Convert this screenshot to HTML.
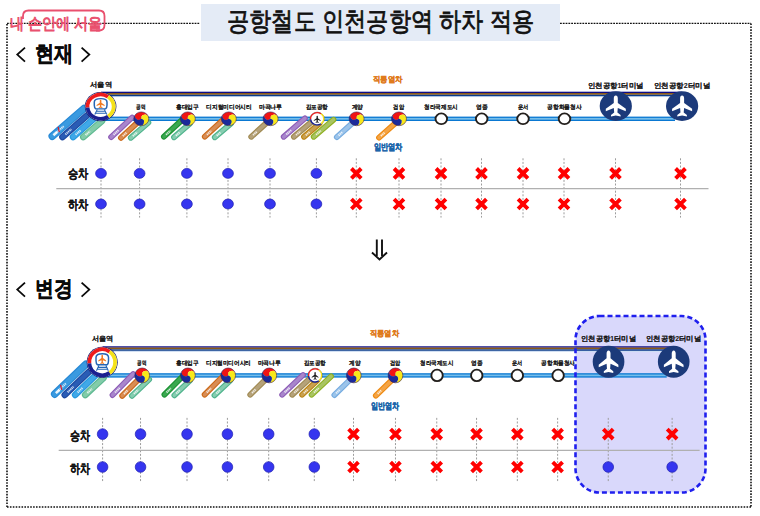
<!DOCTYPE html><html><head><meta charset="utf-8"><style>html,body{margin:0;padding:0;background:#fff;width:760px;height:516px;overflow:hidden}svg{display:block;font-family:"Liberation Sans",sans-serif}</style></head><body><svg width="760" height="516" viewBox="0 0 760 516"><rect width="760" height="516" fill="#fff"/><path d="M7,23.3 L200,23.3 M560,23.3 L751,23.3" fill="none" stroke="#111" stroke-width="1.2" stroke-dasharray="1.8,1"/><path d="M751,23.5 L751,507 M751,507 L7,507 M7,507 L7,23" fill="none" stroke="#111" stroke-width="1.6" stroke-dasharray="1.6,1.3"/><rect x="201" y="4" width="359" height="37" fill="#e4ebf6"/><text x="227.00" y="29.70" font-size="26" font-weight="normal" fill="#111" textLength="307.00" lengthAdjust="spacingAndGlyphs" stroke="#111" stroke-width="0.8">공항철도 인천공항역 하차 적용</text><path d="M23,19 L23,16 Q23,10.5 28.5,10.5 L99,10.5 Q104.5,10.5 104.5,16 L104.5,25 Q104.5,30.5 99,30.5 L96,30.5" fill="none" stroke="#e9506e" stroke-width="1.8"/><text x="9.80" y="28.70" font-size="15.5" font-weight="normal" fill="#e9506e" textLength="91.90" lengthAdjust="spacingAndGlyphs" stroke="#e9506e" stroke-width="0.9">내 손안에 서울</text><path d="M25,47.6 L17.3,54.6 L25,61.6 M81.6,47.6 L89.3,54.6 L81.6,61.6" fill="none" stroke="#0a0a0a" stroke-width="1.8"/><path d="M25,282.6 L17.3,289.6 L25,296.6 M81.6,282.6 L89.3,289.6 L81.6,296.6" fill="none" stroke="#0a0a0a" stroke-width="1.8"/><text x="35.00" y="61.20" font-size="22" font-weight="bold" fill="#0a0a0a" textLength="38.30" lengthAdjust="spacingAndGlyphs" stroke="#0a0a0a" stroke-width="0.4">현재</text><text x="35.30" y="296.20" font-size="22" font-weight="bold" fill="#0a0a0a" textLength="37.50" lengthAdjust="spacingAndGlyphs" stroke="#0a0a0a" stroke-width="0.4">변경</text><rect x="101.00" y="96.20" width="581.00" height="0.9" fill="#cddcf2"/><rect x="101.00" y="91.70" width="581.00" height="1.4" fill="#0c0c88"/><rect x="101.00" y="93.00" width="581.00" height="1.8" fill="#8c5a18"/><rect x="101.00" y="94.80" width="581.00" height="1.4" fill="#0a3c8c"/><rect x="101.00" y="116.60" width="574.00" height="4.4" fill="#0a78d2"/><rect x="101.00" y="117.90" width="574.00" height="1.8" fill="#74bdea"/><line x1="52.30" y1="136.20" x2="84.00" y2="108.50" stroke="#2789d6" stroke-width="7.6" stroke-linecap="round"/><line x1="52.30" y1="136.20" x2="84.00" y2="108.50" stroke="#3a9ae0" stroke-width="5.3999999999999995" stroke-linecap="round"/><line x1="56.10" y1="132.88" x2="63.71" y2="126.23" stroke="#ffffff" stroke-opacity="0.8" stroke-width="2" stroke-dasharray="1.2,0.6"/><line x1="62.50" y1="137.00" x2="87.00" y2="115.50" stroke="#1c48a0" stroke-width="6.6" stroke-linecap="round"/><line x1="62.50" y1="137.00" x2="87.00" y2="115.50" stroke="#2a5cb5" stroke-width="4.3999999999999995" stroke-linecap="round"/><line x1="65.44" y1="134.42" x2="71.32" y2="129.26" stroke="#ffffff" stroke-opacity="0.8" stroke-width="2" stroke-dasharray="1.2,0.6"/><line x1="73.10" y1="137.00" x2="94.00" y2="118.50" stroke="#2598de" stroke-width="6.6" stroke-linecap="round"/><line x1="73.10" y1="137.00" x2="94.00" y2="118.50" stroke="#40a8e8" stroke-width="4.3999999999999995" stroke-linecap="round"/><line x1="75.61" y1="134.78" x2="80.62" y2="130.34" stroke="#ffffff" stroke-opacity="0.8" stroke-width="2" stroke-dasharray="1.2,0.6"/><line x1="83.30" y1="137.00" x2="102.00" y2="121.00" stroke="#5db890" stroke-width="6.6" stroke-linecap="round"/><line x1="83.30" y1="137.00" x2="102.00" y2="121.00" stroke="#82cca9" stroke-width="4.3999999999999995" stroke-linecap="round"/><line x1="85.54" y1="135.08" x2="90.03" y2="131.24" stroke="#ffffff" stroke-opacity="0.8" stroke-width="2" stroke-dasharray="1.2,0.6"/><line x1="111.10" y1="137.10" x2="132.10" y2="117.50" stroke="#8d5bb6" stroke-width="5.8" stroke-linecap="round"/><line x1="111.10" y1="137.10" x2="132.10" y2="117.50" stroke="#a886cc" stroke-width="3.5999999999999996" stroke-linecap="round"/><line x1="113.62" y1="134.75" x2="118.66" y2="130.04" stroke="#ffffff" stroke-opacity="0.8" stroke-width="2" stroke-dasharray="1.2,0.6"/><line x1="120.90" y1="137.80" x2="137.00" y2="123.00" stroke="#cc6a1a" stroke-width="5.8" stroke-linecap="round"/><line x1="120.90" y1="137.80" x2="137.00" y2="123.00" stroke="#d88d55" stroke-width="3.5999999999999996" stroke-linecap="round"/><line x1="122.83" y1="136.02" x2="126.70" y2="132.47" stroke="#ffffff" stroke-opacity="0.8" stroke-width="2" stroke-dasharray="1.2,0.6"/><line x1="130.80" y1="137.80" x2="148.40" y2="122.60" stroke="#4fb38c" stroke-width="5.8" stroke-linecap="round"/><line x1="130.80" y1="137.80" x2="148.40" y2="122.60" stroke="#86cdb0" stroke-width="3.5999999999999996" stroke-linecap="round"/><line x1="132.91" y1="135.98" x2="137.14" y2="132.33" stroke="#ffffff" stroke-opacity="0.8" stroke-width="2" stroke-dasharray="1.2,0.6"/><line x1="163.90" y1="136.70" x2="182.00" y2="120.00" stroke="#1c9233" stroke-width="5.8" stroke-linecap="round"/><line x1="163.90" y1="136.70" x2="182.00" y2="120.00" stroke="#3aa850" stroke-width="3.5999999999999996" stroke-linecap="round"/><line x1="166.07" y1="134.70" x2="170.42" y2="130.69" stroke="#ffffff" stroke-opacity="0.8" stroke-width="2" stroke-dasharray="1.2,0.6"/><line x1="174.00" y1="137.30" x2="190.00" y2="123.50" stroke="#4fb38c" stroke-width="5.8" stroke-linecap="round"/><line x1="174.00" y1="137.30" x2="190.00" y2="123.50" stroke="#86cdb0" stroke-width="3.5999999999999996" stroke-linecap="round"/><line x1="175.92" y1="135.64" x2="179.76" y2="132.33" stroke="#ffffff" stroke-opacity="0.8" stroke-width="2" stroke-dasharray="1.2,0.6"/><line x1="204.80" y1="136.70" x2="223.00" y2="120.00" stroke="#cc6a1a" stroke-width="5.8" stroke-linecap="round"/><line x1="204.80" y1="136.70" x2="223.00" y2="120.00" stroke="#d88d55" stroke-width="3.5999999999999996" stroke-linecap="round"/><line x1="206.98" y1="134.70" x2="211.35" y2="130.69" stroke="#ffffff" stroke-opacity="0.8" stroke-width="2" stroke-dasharray="1.2,0.6"/><line x1="214.80" y1="137.30" x2="231.00" y2="123.50" stroke="#4fb38c" stroke-width="5.8" stroke-linecap="round"/><line x1="214.80" y1="137.30" x2="231.00" y2="123.50" stroke="#86cdb0" stroke-width="3.5999999999999996" stroke-linecap="round"/><line x1="216.74" y1="135.64" x2="220.63" y2="132.33" stroke="#ffffff" stroke-opacity="0.8" stroke-width="2" stroke-dasharray="1.2,0.6"/><line x1="251.20" y1="136.80" x2="267.00" y2="122.50" stroke="#a08a52" stroke-width="5.8" stroke-linecap="round"/><line x1="251.20" y1="136.80" x2="267.00" y2="122.50" stroke="#b5a27a" stroke-width="3.5999999999999996" stroke-linecap="round"/><line x1="253.10" y1="135.08" x2="256.89" y2="131.65" stroke="#ffffff" stroke-opacity="0.8" stroke-width="2" stroke-dasharray="1.2,0.6"/><line x1="283.70" y1="136.80" x2="304.90" y2="118.40" stroke="#8d5bb6" stroke-width="5.8" stroke-linecap="round"/><line x1="283.70" y1="136.80" x2="304.90" y2="118.40" stroke="#a886cc" stroke-width="3.5999999999999996" stroke-linecap="round"/><line x1="286.24" y1="134.59" x2="291.33" y2="130.18" stroke="#ffffff" stroke-opacity="0.8" stroke-width="2" stroke-dasharray="1.2,0.6"/><line x1="293.90" y1="136.80" x2="312.00" y2="121.50" stroke="#a08a52" stroke-width="5.8" stroke-linecap="round"/><line x1="293.90" y1="136.80" x2="312.00" y2="121.50" stroke="#b5a27a" stroke-width="3.5999999999999996" stroke-linecap="round"/><line x1="296.07" y1="134.96" x2="300.42" y2="131.29" stroke="#ffffff" stroke-opacity="0.8" stroke-width="2" stroke-dasharray="1.2,0.6"/><line x1="304.00" y1="136.80" x2="319.50" y2="123.50" stroke="#bb8412" stroke-width="5.8" stroke-linecap="round"/><line x1="304.00" y1="136.80" x2="319.50" y2="123.50" stroke="#c9a050" stroke-width="3.5999999999999996" stroke-linecap="round"/><line x1="305.86" y1="135.20" x2="309.58" y2="132.01" stroke="#ffffff" stroke-opacity="0.8" stroke-width="2" stroke-dasharray="1.2,0.6"/><line x1="313.70" y1="136.80" x2="333.50" y2="119.70" stroke="#8fb022" stroke-width="5.8" stroke-linecap="round"/><line x1="313.70" y1="136.80" x2="333.50" y2="119.70" stroke="#a8c462" stroke-width="3.5999999999999996" stroke-linecap="round"/><line x1="316.08" y1="134.75" x2="320.83" y2="130.64" stroke="#ffffff" stroke-opacity="0.8" stroke-width="2" stroke-dasharray="1.2,0.6"/><line x1="336.80" y1="137.10" x2="352.00" y2="123.50" stroke="#76ace0" stroke-width="5.8" stroke-linecap="round"/><line x1="336.80" y1="137.10" x2="352.00" y2="123.50" stroke="#9cc4ea" stroke-width="3.5999999999999996" stroke-linecap="round"/><line x1="338.62" y1="135.47" x2="342.27" y2="132.20" stroke="#ffffff" stroke-opacity="0.8" stroke-width="2" stroke-dasharray="1.2,0.6"/><line x1="379.00" y1="137.60" x2="395.00" y2="123.50" stroke="#ee8a12" stroke-width="5.8" stroke-linecap="round"/><line x1="379.00" y1="137.60" x2="395.00" y2="123.50" stroke="#f4a445" stroke-width="3.5999999999999996" stroke-linecap="round"/><line x1="380.92" y1="135.91" x2="384.76" y2="132.52" stroke="#ffffff" stroke-opacity="0.8" stroke-width="2" stroke-dasharray="1.2,0.6"/><g transform="translate(52.30,136.20) rotate(-42)"><rect x="1.5" y="-1.3" width="5" height="2.6" fill="#ffffff" opacity="0.9"/><path d="M8,1.6 L10.5,-3" stroke="#e01a2a" stroke-width="1.2"/></g><g transform="translate(100.60,106.60) scale(1.0,0.92)"><circle r="15.8" fill="#1a2070"/><circle r="15.0" fill="#fff"/><path d="M-13.05,1.14 A13.10,13.10 0 0 1 7.51,-10.73" fill="none" stroke="#ee1c1c" stroke-width="3.8"/><path d="M7.51,-10.73 A13.10,13.10 0 0 1 7.51,10.73" fill="none" stroke="#f5e21a" stroke-width="3.8"/><path d="M7.51,10.73 A13.10,13.10 0 0 1 -13.05,1.14" fill="none" stroke="#1a2090" stroke-width="3.8"/><g transform="translate(-100.8,-106.5)"><path d="M96,109 Q94.5,108 94.5,105 L94.5,101.5 Q94.5,97.8 101,97.8 Q107.2,97.8 107.2,101.5 L107.2,105 Q107.2,108 105.7,109 Z" fill="none" stroke="#2565b5" stroke-width="1.5"/><path d="M97.5,109.5 L95,115 M104.5,109.5 L107,115 M96.8,111.6 L105.2,111.6 M96,113.6 L106,113.6" stroke="#2565b5" stroke-width="1.1" fill="none"/><path transform="translate(100.80,103.40) scale(0.4)" d="M0,-11 C1.3,-11 2,-9.5 2,-8 L2,-3 L10,3.5 L10,6 L2,2.5 L1.6,7.5 L4.8,10.2 L4.8,11.8 L0,10.8 L-4.8,11.8 L-4.8,10.2 L-1.6,7.5 L-2,2.5 L-10,6 L-10,3.5 L-2,-3 L-2,-8 C-2,-9.5 -1.3,-11 0,-11Z" fill="#f07a22"/></g></g><g transform="translate(141.30,118.80) scale(1.0,0.92)"><path d="M0.00,0.00 A3.75,3.75 0 0 1 -5.30,-5.30 A7.50,7.50 0 0 1 7.24,-1.94 A3.75,3.75 0 0 0 0.00,0.00Z" fill="#f01414"/><path d="M0.00,0.00 A3.75,3.75 0 0 1 7.24,-1.94 A7.50,7.50 0 0 1 -1.94,7.24 A3.75,3.75 0 0 0 0.00,0.00Z" fill="#f8e81a"/><path d="M0.00,0.00 A3.75,3.75 0 0 1 -1.94,7.24 A7.50,7.50 0 0 1 -5.30,-5.30 A3.75,3.75 0 0 0 0.00,0.00Z" fill="#1b2a9a"/><circle cx="0.00" cy="0.00" r="7.50" fill="none" stroke="#3a2050" stroke-width="0.6"/></g><g transform="translate(187.80,118.80) scale(1.0,0.92)"><path d="M0.00,0.00 A3.75,3.75 0 0 1 -5.30,-5.30 A7.50,7.50 0 0 1 7.24,-1.94 A3.75,3.75 0 0 0 0.00,0.00Z" fill="#f01414"/><path d="M0.00,0.00 A3.75,3.75 0 0 1 7.24,-1.94 A7.50,7.50 0 0 1 -1.94,7.24 A3.75,3.75 0 0 0 0.00,0.00Z" fill="#f8e81a"/><path d="M0.00,0.00 A3.75,3.75 0 0 1 -1.94,7.24 A7.50,7.50 0 0 1 -5.30,-5.30 A3.75,3.75 0 0 0 0.00,0.00Z" fill="#1b2a9a"/><circle cx="0.00" cy="0.00" r="7.50" fill="none" stroke="#3a2050" stroke-width="0.6"/></g><g transform="translate(228.80,118.80) scale(1.0,0.92)"><path d="M0.00,0.00 A3.75,3.75 0 0 1 -5.30,-5.30 A7.50,7.50 0 0 1 7.24,-1.94 A3.75,3.75 0 0 0 0.00,0.00Z" fill="#f01414"/><path d="M0.00,0.00 A3.75,3.75 0 0 1 7.24,-1.94 A7.50,7.50 0 0 1 -1.94,7.24 A3.75,3.75 0 0 0 0.00,0.00Z" fill="#f8e81a"/><path d="M0.00,0.00 A3.75,3.75 0 0 1 -1.94,7.24 A7.50,7.50 0 0 1 -5.30,-5.30 A3.75,3.75 0 0 0 0.00,0.00Z" fill="#1b2a9a"/><circle cx="0.00" cy="0.00" r="7.50" fill="none" stroke="#3a2050" stroke-width="0.6"/></g><g transform="translate(270.60,118.80) scale(1.0,0.92)"><path d="M0.00,0.00 A3.75,3.75 0 0 1 -5.30,-5.30 A7.50,7.50 0 0 1 7.24,-1.94 A3.75,3.75 0 0 0 0.00,0.00Z" fill="#f01414"/><path d="M0.00,0.00 A3.75,3.75 0 0 1 7.24,-1.94 A7.50,7.50 0 0 1 -1.94,7.24 A3.75,3.75 0 0 0 0.00,0.00Z" fill="#f8e81a"/><path d="M0.00,0.00 A3.75,3.75 0 0 1 -1.94,7.24 A7.50,7.50 0 0 1 -5.30,-5.30 A3.75,3.75 0 0 0 0.00,0.00Z" fill="#1b2a9a"/><circle cx="0.00" cy="0.00" r="7.50" fill="none" stroke="#3a2050" stroke-width="0.6"/></g><g transform="translate(356.60,118.80) scale(1.0,0.92)"><path d="M0.00,0.00 A3.75,3.75 0 0 1 -5.30,-5.30 A7.50,7.50 0 0 1 7.24,-1.94 A3.75,3.75 0 0 0 0.00,0.00Z" fill="#f01414"/><path d="M0.00,0.00 A3.75,3.75 0 0 1 7.24,-1.94 A7.50,7.50 0 0 1 -1.94,7.24 A3.75,3.75 0 0 0 0.00,0.00Z" fill="#f8e81a"/><path d="M0.00,0.00 A3.75,3.75 0 0 1 -1.94,7.24 A7.50,7.50 0 0 1 -5.30,-5.30 A3.75,3.75 0 0 0 0.00,0.00Z" fill="#1b2a9a"/><circle cx="0.00" cy="0.00" r="7.50" fill="none" stroke="#3a2050" stroke-width="0.6"/></g><g transform="translate(399.00,118.80) scale(1.0,0.92)"><path d="M0.00,0.00 A3.75,3.75 0 0 1 -5.30,-5.30 A7.50,7.50 0 0 1 7.24,-1.94 A3.75,3.75 0 0 0 0.00,0.00Z" fill="#f01414"/><path d="M0.00,0.00 A3.75,3.75 0 0 1 7.24,-1.94 A7.50,7.50 0 0 1 -1.94,7.24 A3.75,3.75 0 0 0 0.00,0.00Z" fill="#f8e81a"/><path d="M0.00,0.00 A3.75,3.75 0 0 1 -1.94,7.24 A7.50,7.50 0 0 1 -5.30,-5.30 A3.75,3.75 0 0 0 0.00,0.00Z" fill="#1b2a9a"/><circle cx="0.00" cy="0.00" r="7.50" fill="none" stroke="#3a2050" stroke-width="0.6"/></g><g transform="translate(317.20,118.80) scale(1.0,0.92)"><circle r="7.2" fill="#fff" stroke="#222" stroke-width="0.5"/><path d="M-6.57,0.58 A6.60,6.60 0 0 1 3.79,-5.41" fill="none" stroke="#ee1c1c" stroke-width="1.3"/><path d="M3.79,-5.41 A6.60,6.60 0 0 1 3.79,5.41" fill="none" stroke="#f5e21a" stroke-width="1.3"/><path d="M3.79,5.41 A6.60,6.60 0 0 1 -6.57,0.58" fill="none" stroke="#1a2090" stroke-width="1.3"/><path transform="translate(0.00,0.30) scale(0.34)" d="M0,-11 C1.3,-11 2,-9.5 2,-8 L2,-3 L10,3.5 L10,6 L2,2.5 L1.6,7.5 L4.8,10.2 L4.8,11.8 L0,10.8 L-4.8,11.8 L-4.8,10.2 L-1.6,7.5 L-2,2.5 L-10,6 L-10,3.5 L-2,-3 L-2,-8 C-2,-9.5 -1.3,-11 0,-11Z" fill="#1a1a1a"/></g><g transform="translate(441.30,118.80) scale(1.0,0.92)"><circle r="5.8" fill="#fff" stroke="#231f1c" stroke-width="1.9"/></g><g transform="translate(481.70,118.80) scale(1.0,0.92)"><circle r="5.8" fill="#fff" stroke="#231f1c" stroke-width="1.9"/></g><g transform="translate(523.00,118.80) scale(1.0,0.92)"><circle r="5.8" fill="#fff" stroke="#231f1c" stroke-width="1.9"/></g><g transform="translate(564.50,118.80) scale(1.0,0.92)"><circle r="5.8" fill="#fff" stroke="#231f1c" stroke-width="1.9"/></g><g transform="translate(615.80,106.10) scale(1.0,0.92)"><circle r="16.1" fill="#1c3a7a"/><path transform="translate(0.00,-0.50) scale(1.0)" d="M0,-11 C1.3,-11 2,-9.5 2,-8 L2,-3 L10,3.5 L10,6 L2,2.5 L1.6,7.5 L4.8,10.2 L4.8,11.8 L0,10.8 L-4.8,11.8 L-4.8,10.2 L-1.6,7.5 L-2,2.5 L-10,6 L-10,3.5 L-2,-3 L-2,-8 C-2,-9.5 -1.3,-11 0,-11Z" fill="#ffffff"/></g><g transform="translate(682.10,106.10) scale(1.0,0.92)"><circle r="16.1" fill="#1c3a7a"/><path transform="translate(0.00,-0.50) scale(1.0)" d="M0,-11 C1.3,-11 2,-9.5 2,-8 L2,-3 L10,3.5 L10,6 L2,2.5 L1.6,7.5 L4.8,10.2 L4.8,11.8 L0,10.8 L-4.8,11.8 L-4.8,10.2 L-1.6,7.5 L-2,2.5 L-10,6 L-10,3.5 L-2,-3 L-2,-8 C-2,-9.5 -1.3,-11 0,-11Z" fill="#ffffff"/></g><text x="90.00" y="87.48" font-size="6.6" font-weight="bold" fill="#1a1a1a" textLength="21.80" lengthAdjust="spacingAndGlyphs" stroke="#1a1a1a" stroke-width="0.08">서울역</text><text x="136.30" y="109.48" font-size="5.6" font-weight="bold" fill="#1a1a1a" textLength="9.20" lengthAdjust="spacingAndGlyphs" stroke="#1a1a1a" stroke-width="0.08">공덕</text><text x="175.80" y="109.28" font-size="5.6" font-weight="bold" fill="#1a1a1a" textLength="23.00" lengthAdjust="spacingAndGlyphs" stroke="#1a1a1a" stroke-width="0.08">홍대입구</text><text x="206.20" y="109.28" font-size="5.6" font-weight="bold" fill="#1a1a1a" textLength="45.50" lengthAdjust="spacingAndGlyphs" stroke="#1a1a1a" stroke-width="0.08">디지털미디어시티</text><text x="258.70" y="109.28" font-size="5.6" font-weight="bold" fill="#1a1a1a" textLength="23.50" lengthAdjust="spacingAndGlyphs" stroke="#1a1a1a" stroke-width="0.08">마곡나루</text><text x="305.60" y="109.08" font-size="5.6" font-weight="bold" fill="#1a1a1a" textLength="22.30" lengthAdjust="spacingAndGlyphs" stroke="#1a1a1a" stroke-width="0.08">김포공항</text><text x="351.80" y="109.28" font-size="5.6" font-weight="bold" fill="#1a1a1a" textLength="11.40" lengthAdjust="spacingAndGlyphs" stroke="#1a1a1a" stroke-width="0.08">계양</text><text x="393.40" y="109.28" font-size="5.6" font-weight="bold" fill="#1a1a1a" textLength="10.60" lengthAdjust="spacingAndGlyphs" stroke="#1a1a1a" stroke-width="0.08">검암</text><text x="424.20" y="109.08" font-size="5.6" font-weight="bold" fill="#1a1a1a" textLength="33.50" lengthAdjust="spacingAndGlyphs" stroke="#1a1a1a" stroke-width="0.08">청라국제도시</text><text x="475.80" y="109.28" font-size="5.6" font-weight="bold" fill="#1a1a1a" textLength="11.60" lengthAdjust="spacingAndGlyphs" stroke="#1a1a1a" stroke-width="0.08">영종</text><text x="517.80" y="109.48" font-size="5.6" font-weight="bold" fill="#1a1a1a" textLength="10.50" lengthAdjust="spacingAndGlyphs" stroke="#1a1a1a" stroke-width="0.08">운서</text><text x="547.40" y="109.28" font-size="5.6" font-weight="bold" fill="#1a1a1a" textLength="34.20" lengthAdjust="spacingAndGlyphs" stroke="#1a1a1a" stroke-width="0.08">공항화물청사</text><text x="588.00" y="87.58" font-size="6.6" font-weight="bold" fill="#1a1a1a" textLength="55.60" lengthAdjust="spacingAndGlyphs" stroke="#1a1a1a" stroke-width="0.08">인천공항1터미널</text><text x="654.00" y="87.58" font-size="6.6" font-weight="bold" fill="#1a1a1a" textLength="56.00" lengthAdjust="spacingAndGlyphs" stroke="#1a1a1a" stroke-width="0.08">인천공항2터미널</text><text x="372.90" y="82.20" font-size="8" font-weight="bold" fill="#e07b1c" textLength="29.60" lengthAdjust="spacingAndGlyphs" stroke="#e07b1c" stroke-width="0.3">직통열차</text><text x="373.60" y="150.40" font-size="8.5" font-weight="bold" fill="#1d65aa" textLength="28.90" lengthAdjust="spacingAndGlyphs" stroke="#1d65aa" stroke-width="0.35">일반열차</text><line x1="101.00" y1="158.30" x2="101.00" y2="217.60" stroke="#9c9c9c" stroke-width="1" stroke-dasharray="2,1.6"/><line x1="139.60" y1="158.30" x2="139.60" y2="217.60" stroke="#9c9c9c" stroke-width="1" stroke-dasharray="2,1.6"/><line x1="186.90" y1="158.30" x2="186.90" y2="217.60" stroke="#9c9c9c" stroke-width="1" stroke-dasharray="2,1.6"/><line x1="228.00" y1="158.30" x2="228.00" y2="217.60" stroke="#9c9c9c" stroke-width="1" stroke-dasharray="2,1.6"/><line x1="270.00" y1="158.30" x2="270.00" y2="217.60" stroke="#9c9c9c" stroke-width="1" stroke-dasharray="2,1.6"/><line x1="316.40" y1="158.30" x2="316.40" y2="217.60" stroke="#9c9c9c" stroke-width="1" stroke-dasharray="2,1.6"/><line x1="356.30" y1="158.30" x2="356.30" y2="217.60" stroke="#9c9c9c" stroke-width="1" stroke-dasharray="2,1.6"/><line x1="399.00" y1="158.30" x2="399.00" y2="217.60" stroke="#9c9c9c" stroke-width="1" stroke-dasharray="2,1.6"/><line x1="441.00" y1="158.30" x2="441.00" y2="217.60" stroke="#9c9c9c" stroke-width="1" stroke-dasharray="2,1.6"/><line x1="481.50" y1="158.30" x2="481.50" y2="217.60" stroke="#9c9c9c" stroke-width="1" stroke-dasharray="2,1.6"/><line x1="523.00" y1="158.30" x2="523.00" y2="217.60" stroke="#9c9c9c" stroke-width="1" stroke-dasharray="2,1.6"/><line x1="564.00" y1="158.30" x2="564.00" y2="217.60" stroke="#9c9c9c" stroke-width="1" stroke-dasharray="2,1.6"/><line x1="615.50" y1="158.30" x2="615.50" y2="217.60" stroke="#9c9c9c" stroke-width="1" stroke-dasharray="2,1.6"/><line x1="680.50" y1="158.30" x2="680.50" y2="217.60" stroke="#9c9c9c" stroke-width="1" stroke-dasharray="2,1.6"/><line x1="56.30" y1="188.60" x2="708.50" y2="188.60" stroke="#b0b0b0" stroke-width="1.2"/><text x="67.50" y="177.80" font-size="12.5" font-weight="bold" fill="#111" textLength="20.40" lengthAdjust="spacingAndGlyphs" stroke="#111" stroke-width="0.2">승차</text><text x="67.50" y="208.80" font-size="12.5" font-weight="bold" fill="#111" textLength="20.40" lengthAdjust="spacingAndGlyphs" stroke="#111" stroke-width="0.2">하차</text><ellipse cx="101.00" cy="173.40" rx="5.40" ry="4.97" fill="#3535ef" stroke="#2020b0" stroke-width="0.7"/><ellipse cx="101.00" cy="204.00" rx="5.40" ry="4.97" fill="#3535ef" stroke="#2020b0" stroke-width="0.7"/><ellipse cx="139.60" cy="173.40" rx="5.40" ry="4.97" fill="#3535ef" stroke="#2020b0" stroke-width="0.7"/><ellipse cx="139.60" cy="204.00" rx="5.40" ry="4.97" fill="#3535ef" stroke="#2020b0" stroke-width="0.7"/><ellipse cx="186.90" cy="173.40" rx="5.40" ry="4.97" fill="#3535ef" stroke="#2020b0" stroke-width="0.7"/><ellipse cx="186.90" cy="204.00" rx="5.40" ry="4.97" fill="#3535ef" stroke="#2020b0" stroke-width="0.7"/><ellipse cx="228.00" cy="173.40" rx="5.40" ry="4.97" fill="#3535ef" stroke="#2020b0" stroke-width="0.7"/><ellipse cx="228.00" cy="204.00" rx="5.40" ry="4.97" fill="#3535ef" stroke="#2020b0" stroke-width="0.7"/><ellipse cx="270.00" cy="173.40" rx="5.40" ry="4.97" fill="#3535ef" stroke="#2020b0" stroke-width="0.7"/><ellipse cx="270.00" cy="204.00" rx="5.40" ry="4.97" fill="#3535ef" stroke="#2020b0" stroke-width="0.7"/><ellipse cx="316.40" cy="173.40" rx="5.40" ry="4.97" fill="#3535ef" stroke="#2020b0" stroke-width="0.7"/><ellipse cx="316.40" cy="204.00" rx="5.40" ry="4.97" fill="#3535ef" stroke="#2020b0" stroke-width="0.7"/><path d="M351.40,168.50 L361.20,178.30 M361.20,168.50 L351.40,178.30" stroke="#ff0000" stroke-width="3.9"/><path d="M351.40,199.10 L361.20,208.90 M361.20,199.10 L351.40,208.90" stroke="#ff0000" stroke-width="3.9"/><path d="M394.10,168.50 L403.90,178.30 M403.90,168.50 L394.10,178.30" stroke="#ff0000" stroke-width="3.9"/><path d="M394.10,199.10 L403.90,208.90 M403.90,199.10 L394.10,208.90" stroke="#ff0000" stroke-width="3.9"/><path d="M436.10,168.50 L445.90,178.30 M445.90,168.50 L436.10,178.30" stroke="#ff0000" stroke-width="3.9"/><path d="M436.10,199.10 L445.90,208.90 M445.90,199.10 L436.10,208.90" stroke="#ff0000" stroke-width="3.9"/><path d="M476.60,168.50 L486.40,178.30 M486.40,168.50 L476.60,178.30" stroke="#ff0000" stroke-width="3.9"/><path d="M476.60,199.10 L486.40,208.90 M486.40,199.10 L476.60,208.90" stroke="#ff0000" stroke-width="3.9"/><path d="M518.10,168.50 L527.90,178.30 M527.90,168.50 L518.10,178.30" stroke="#ff0000" stroke-width="3.9"/><path d="M518.10,199.10 L527.90,208.90 M527.90,199.10 L518.10,208.90" stroke="#ff0000" stroke-width="3.9"/><path d="M559.10,168.50 L568.90,178.30 M568.90,168.50 L559.10,178.30" stroke="#ff0000" stroke-width="3.9"/><path d="M559.10,199.10 L568.90,208.90 M568.90,199.10 L559.10,208.90" stroke="#ff0000" stroke-width="3.9"/><path d="M610.60,168.50 L620.40,178.30 M620.40,168.50 L610.60,178.30" stroke="#ff0000" stroke-width="3.9"/><path d="M610.60,199.10 L620.40,208.90 M620.40,199.10 L610.60,208.90" stroke="#ff0000" stroke-width="3.9"/><path d="M675.60,168.50 L685.40,178.30 M685.40,168.50 L675.60,178.30" stroke="#ff0000" stroke-width="3.9"/><path d="M675.60,199.10 L685.40,208.90 M685.40,199.10 L675.60,208.90" stroke="#ff0000" stroke-width="3.9"/><path d="M376.8,239.5 L376.8,256 M382,239.5 L382,256 M372,252.5 L379.5,259.5 L387,252.5" fill="none" stroke="#111" stroke-width="1.9"/><rect x="575.5" y="316" width="130" height="176.5" rx="24" ry="24" fill="#d9d8fb"/><rect x="102.60" y="351.12" width="571.01" height="0.9" fill="#cddcf2"/><rect x="102.60" y="346.28" width="571.01" height="1.4" fill="#0c0c88"/><rect x="102.60" y="347.58" width="571.01" height="1.8" fill="#8c5a18"/><rect x="102.60" y="349.38" width="571.01" height="1.4" fill="#0a3c8c"/><rect x="102.60" y="373.21" width="564.13" height="4.4" fill="#0a78d2"/><rect x="102.60" y="374.51" width="564.13" height="1.8" fill="#74bdea"/><line x1="54.74" y1="394.12" x2="85.90" y2="364.34" stroke="#2789d6" stroke-width="7.6" stroke-linecap="round"/><line x1="54.74" y1="394.12" x2="85.90" y2="364.34" stroke="#3a9ae0" stroke-width="5.3999999999999995" stroke-linecap="round"/><line x1="58.48" y1="390.54" x2="65.96" y2="383.40" stroke="#ffffff" stroke-opacity="0.8" stroke-width="2" stroke-dasharray="1.2,0.6"/><line x1="64.77" y1="394.98" x2="88.84" y2="371.86" stroke="#1c48a0" stroke-width="6.6" stroke-linecap="round"/><line x1="64.77" y1="394.98" x2="88.84" y2="371.86" stroke="#2a5cb5" stroke-width="4.3999999999999995" stroke-linecap="round"/><line x1="67.65" y1="392.20" x2="73.43" y2="386.65" stroke="#ffffff" stroke-opacity="0.8" stroke-width="2" stroke-dasharray="1.2,0.6"/><line x1="75.18" y1="394.98" x2="95.72" y2="375.09" stroke="#2598de" stroke-width="6.6" stroke-linecap="round"/><line x1="75.18" y1="394.98" x2="95.72" y2="375.09" stroke="#40a8e8" stroke-width="4.3999999999999995" stroke-linecap="round"/><line x1="77.65" y1="392.59" x2="82.58" y2="387.82" stroke="#ffffff" stroke-opacity="0.8" stroke-width="2" stroke-dasharray="1.2,0.6"/><line x1="85.21" y1="394.98" x2="103.59" y2="377.77" stroke="#5db890" stroke-width="6.6" stroke-linecap="round"/><line x1="85.21" y1="394.98" x2="103.59" y2="377.77" stroke="#82cca9" stroke-width="4.3999999999999995" stroke-linecap="round"/><line x1="87.41" y1="392.91" x2="91.82" y2="388.78" stroke="#ffffff" stroke-opacity="0.8" stroke-width="2" stroke-dasharray="1.2,0.6"/><line x1="112.53" y1="395.08" x2="133.17" y2="374.01" stroke="#8d5bb6" stroke-width="5.8" stroke-linecap="round"/><line x1="112.53" y1="395.08" x2="133.17" y2="374.01" stroke="#a886cc" stroke-width="3.5999999999999996" stroke-linecap="round"/><line x1="115.01" y1="392.55" x2="119.96" y2="387.50" stroke="#ffffff" stroke-opacity="0.8" stroke-width="2" stroke-dasharray="1.2,0.6"/><line x1="122.16" y1="395.84" x2="137.98" y2="379.92" stroke="#cc6a1a" stroke-width="5.8" stroke-linecap="round"/><line x1="122.16" y1="395.84" x2="137.98" y2="379.92" stroke="#d88d55" stroke-width="3.5999999999999996" stroke-linecap="round"/><line x1="124.06" y1="393.93" x2="127.86" y2="390.11" stroke="#ffffff" stroke-opacity="0.8" stroke-width="2" stroke-dasharray="1.2,0.6"/><line x1="131.89" y1="395.84" x2="149.19" y2="379.50" stroke="#4fb38c" stroke-width="5.8" stroke-linecap="round"/><line x1="131.89" y1="395.84" x2="149.19" y2="379.50" stroke="#86cdb0" stroke-width="3.5999999999999996" stroke-linecap="round"/><line x1="133.97" y1="393.87" x2="138.12" y2="389.95" stroke="#ffffff" stroke-opacity="0.8" stroke-width="2" stroke-dasharray="1.2,0.6"/><line x1="164.42" y1="394.65" x2="182.21" y2="376.70" stroke="#1c9233" stroke-width="5.8" stroke-linecap="round"/><line x1="164.42" y1="394.65" x2="182.21" y2="376.70" stroke="#3aa850" stroke-width="3.5999999999999996" stroke-linecap="round"/><line x1="166.56" y1="392.50" x2="170.82" y2="388.19" stroke="#ffffff" stroke-opacity="0.8" stroke-width="2" stroke-dasharray="1.2,0.6"/><line x1="174.35" y1="395.30" x2="190.07" y2="380.46" stroke="#4fb38c" stroke-width="5.8" stroke-linecap="round"/><line x1="174.35" y1="395.30" x2="190.07" y2="380.46" stroke="#86cdb0" stroke-width="3.5999999999999996" stroke-linecap="round"/><line x1="176.23" y1="393.52" x2="180.01" y2="389.96" stroke="#ffffff" stroke-opacity="0.8" stroke-width="2" stroke-dasharray="1.2,0.6"/><line x1="204.62" y1="394.65" x2="222.50" y2="376.70" stroke="#cc6a1a" stroke-width="5.8" stroke-linecap="round"/><line x1="204.62" y1="394.65" x2="222.50" y2="376.70" stroke="#d88d55" stroke-width="3.5999999999999996" stroke-linecap="round"/><line x1="206.76" y1="392.50" x2="211.06" y2="388.19" stroke="#ffffff" stroke-opacity="0.8" stroke-width="2" stroke-dasharray="1.2,0.6"/><line x1="214.45" y1="395.30" x2="230.37" y2="380.46" stroke="#4fb38c" stroke-width="5.8" stroke-linecap="round"/><line x1="214.45" y1="395.30" x2="230.37" y2="380.46" stroke="#86cdb0" stroke-width="3.5999999999999996" stroke-linecap="round"/><line x1="216.36" y1="393.52" x2="220.18" y2="389.96" stroke="#ffffff" stroke-opacity="0.8" stroke-width="2" stroke-dasharray="1.2,0.6"/><line x1="250.22" y1="394.76" x2="265.75" y2="379.39" stroke="#a08a52" stroke-width="5.8" stroke-linecap="round"/><line x1="250.22" y1="394.76" x2="265.75" y2="379.39" stroke="#b5a27a" stroke-width="3.5999999999999996" stroke-linecap="round"/><line x1="252.08" y1="392.92" x2="255.81" y2="389.23" stroke="#ffffff" stroke-opacity="0.8" stroke-width="2" stroke-dasharray="1.2,0.6"/><line x1="282.16" y1="394.76" x2="303.00" y2="374.98" stroke="#8d5bb6" stroke-width="5.8" stroke-linecap="round"/><line x1="282.16" y1="394.76" x2="303.00" y2="374.98" stroke="#a886cc" stroke-width="3.5999999999999996" stroke-linecap="round"/><line x1="284.66" y1="392.39" x2="289.66" y2="387.64" stroke="#ffffff" stroke-opacity="0.8" stroke-width="2" stroke-dasharray="1.2,0.6"/><line x1="292.18" y1="394.76" x2="309.97" y2="378.31" stroke="#a08a52" stroke-width="5.8" stroke-linecap="round"/><line x1="292.18" y1="394.76" x2="309.97" y2="378.31" stroke="#b5a27a" stroke-width="3.5999999999999996" stroke-linecap="round"/><line x1="294.32" y1="392.79" x2="298.59" y2="388.84" stroke="#ffffff" stroke-opacity="0.8" stroke-width="2" stroke-dasharray="1.2,0.6"/><line x1="302.11" y1="394.76" x2="317.34" y2="380.46" stroke="#bb8412" stroke-width="5.8" stroke-linecap="round"/><line x1="302.11" y1="394.76" x2="317.34" y2="380.46" stroke="#c9a050" stroke-width="3.5999999999999996" stroke-linecap="round"/><line x1="303.94" y1="393.04" x2="307.60" y2="389.61" stroke="#ffffff" stroke-opacity="0.8" stroke-width="2" stroke-dasharray="1.2,0.6"/><line x1="311.64" y1="394.76" x2="331.10" y2="376.38" stroke="#8fb022" stroke-width="5.8" stroke-linecap="round"/><line x1="311.64" y1="394.76" x2="331.10" y2="376.38" stroke="#a8c462" stroke-width="3.5999999999999996" stroke-linecap="round"/><line x1="313.98" y1="392.55" x2="318.65" y2="388.14" stroke="#ffffff" stroke-opacity="0.8" stroke-width="2" stroke-dasharray="1.2,0.6"/><line x1="334.35" y1="395.08" x2="349.29" y2="380.46" stroke="#76ace0" stroke-width="5.8" stroke-linecap="round"/><line x1="334.35" y1="395.08" x2="349.29" y2="380.46" stroke="#9cc4ea" stroke-width="3.5999999999999996" stroke-linecap="round"/><line x1="336.14" y1="393.33" x2="339.72" y2="389.82" stroke="#ffffff" stroke-opacity="0.8" stroke-width="2" stroke-dasharray="1.2,0.6"/><line x1="375.82" y1="395.62" x2="391.55" y2="380.46" stroke="#ee8a12" stroke-width="5.8" stroke-linecap="round"/><line x1="375.82" y1="395.62" x2="391.55" y2="380.46" stroke="#f4a445" stroke-width="3.5999999999999996" stroke-linecap="round"/><line x1="377.71" y1="393.80" x2="381.48" y2="390.16" stroke="#ffffff" stroke-opacity="0.8" stroke-width="2" stroke-dasharray="1.2,0.6"/><g transform="translate(54.74,394.12) rotate(-42)"><rect x="1.5" y="-1.3" width="5" height="2.6" fill="#ffffff" opacity="0.9"/><path d="M8,1.6 L10.5,-3" stroke="#e01a2a" stroke-width="1.2"/></g><g transform="translate(102.21,362.29) scale(0.983,0.99)"><circle r="15.8" fill="#1a2070"/><circle r="15.0" fill="#fff"/><path d="M-13.05,1.14 A13.10,13.10 0 0 1 7.51,-10.73" fill="none" stroke="#ee1c1c" stroke-width="3.8"/><path d="M7.51,-10.73 A13.10,13.10 0 0 1 7.51,10.73" fill="none" stroke="#f5e21a" stroke-width="3.8"/><path d="M7.51,10.73 A13.10,13.10 0 0 1 -13.05,1.14" fill="none" stroke="#1a2090" stroke-width="3.8"/><g transform="translate(-100.8,-106.5)"><path d="M96,109 Q94.5,108 94.5,105 L94.5,101.5 Q94.5,97.8 101,97.8 Q107.2,97.8 107.2,101.5 L107.2,105 Q107.2,108 105.7,109 Z" fill="none" stroke="#2565b5" stroke-width="1.5"/><path d="M97.5,109.5 L95,115 M104.5,109.5 L107,115 M96.8,111.6 L105.2,111.6 M96,113.6 L106,113.6" stroke="#2565b5" stroke-width="1.1" fill="none"/><path transform="translate(100.80,103.40) scale(0.4)" d="M0,-11 C1.3,-11 2,-9.5 2,-8 L2,-3 L10,3.5 L10,6 L2,2.5 L1.6,7.5 L4.8,10.2 L4.8,11.8 L0,10.8 L-4.8,11.8 L-4.8,10.2 L-1.6,7.5 L-2,2.5 L-10,6 L-10,3.5 L-2,-3 L-2,-8 C-2,-9.5 -1.3,-11 0,-11Z" fill="#f07a22"/></g></g><g transform="translate(142.21,375.41) scale(0.983,0.99)"><path d="M0.00,0.00 A3.75,3.75 0 0 1 -5.30,-5.30 A7.50,7.50 0 0 1 7.24,-1.94 A3.75,3.75 0 0 0 0.00,0.00Z" fill="#f01414"/><path d="M0.00,0.00 A3.75,3.75 0 0 1 7.24,-1.94 A7.50,7.50 0 0 1 -1.94,7.24 A3.75,3.75 0 0 0 0.00,0.00Z" fill="#f8e81a"/><path d="M0.00,0.00 A3.75,3.75 0 0 1 -1.94,7.24 A7.50,7.50 0 0 1 -5.30,-5.30 A3.75,3.75 0 0 0 0.00,0.00Z" fill="#1b2a9a"/><circle cx="0.00" cy="0.00" r="7.50" fill="none" stroke="#3a2050" stroke-width="0.6"/></g><g transform="translate(187.91,375.41) scale(0.983,0.99)"><path d="M0.00,0.00 A3.75,3.75 0 0 1 -5.30,-5.30 A7.50,7.50 0 0 1 7.24,-1.94 A3.75,3.75 0 0 0 0.00,0.00Z" fill="#f01414"/><path d="M0.00,0.00 A3.75,3.75 0 0 1 7.24,-1.94 A7.50,7.50 0 0 1 -1.94,7.24 A3.75,3.75 0 0 0 0.00,0.00Z" fill="#f8e81a"/><path d="M0.00,0.00 A3.75,3.75 0 0 1 -1.94,7.24 A7.50,7.50 0 0 1 -5.30,-5.30 A3.75,3.75 0 0 0 0.00,0.00Z" fill="#1b2a9a"/><circle cx="0.00" cy="0.00" r="7.50" fill="none" stroke="#3a2050" stroke-width="0.6"/></g><g transform="translate(228.20,375.41) scale(0.983,0.99)"><path d="M0.00,0.00 A3.75,3.75 0 0 1 -5.30,-5.30 A7.50,7.50 0 0 1 7.24,-1.94 A3.75,3.75 0 0 0 0.00,0.00Z" fill="#f01414"/><path d="M0.00,0.00 A3.75,3.75 0 0 1 7.24,-1.94 A7.50,7.50 0 0 1 -1.94,7.24 A3.75,3.75 0 0 0 0.00,0.00Z" fill="#f8e81a"/><path d="M0.00,0.00 A3.75,3.75 0 0 1 -1.94,7.24 A7.50,7.50 0 0 1 -5.30,-5.30 A3.75,3.75 0 0 0 0.00,0.00Z" fill="#1b2a9a"/><circle cx="0.00" cy="0.00" r="7.50" fill="none" stroke="#3a2050" stroke-width="0.6"/></g><g transform="translate(269.29,375.41) scale(0.983,0.99)"><path d="M0.00,0.00 A3.75,3.75 0 0 1 -5.30,-5.30 A7.50,7.50 0 0 1 7.24,-1.94 A3.75,3.75 0 0 0 0.00,0.00Z" fill="#f01414"/><path d="M0.00,0.00 A3.75,3.75 0 0 1 7.24,-1.94 A7.50,7.50 0 0 1 -1.94,7.24 A3.75,3.75 0 0 0 0.00,0.00Z" fill="#f8e81a"/><path d="M0.00,0.00 A3.75,3.75 0 0 1 -1.94,7.24 A7.50,7.50 0 0 1 -5.30,-5.30 A3.75,3.75 0 0 0 0.00,0.00Z" fill="#1b2a9a"/><circle cx="0.00" cy="0.00" r="7.50" fill="none" stroke="#3a2050" stroke-width="0.6"/></g><g transform="translate(353.81,375.41) scale(0.983,0.99)"><path d="M0.00,0.00 A3.75,3.75 0 0 1 -5.30,-5.30 A7.50,7.50 0 0 1 7.24,-1.94 A3.75,3.75 0 0 0 0.00,0.00Z" fill="#f01414"/><path d="M0.00,0.00 A3.75,3.75 0 0 1 7.24,-1.94 A7.50,7.50 0 0 1 -1.94,7.24 A3.75,3.75 0 0 0 0.00,0.00Z" fill="#f8e81a"/><path d="M0.00,0.00 A3.75,3.75 0 0 1 -1.94,7.24 A7.50,7.50 0 0 1 -5.30,-5.30 A3.75,3.75 0 0 0 0.00,0.00Z" fill="#1b2a9a"/><circle cx="0.00" cy="0.00" r="7.50" fill="none" stroke="#3a2050" stroke-width="0.6"/></g><g transform="translate(395.48,375.41) scale(0.983,0.99)"><path d="M0.00,0.00 A3.75,3.75 0 0 1 -5.30,-5.30 A7.50,7.50 0 0 1 7.24,-1.94 A3.75,3.75 0 0 0 0.00,0.00Z" fill="#f01414"/><path d="M0.00,0.00 A3.75,3.75 0 0 1 7.24,-1.94 A7.50,7.50 0 0 1 -1.94,7.24 A3.75,3.75 0 0 0 0.00,0.00Z" fill="#f8e81a"/><path d="M0.00,0.00 A3.75,3.75 0 0 1 -1.94,7.24 A7.50,7.50 0 0 1 -5.30,-5.30 A3.75,3.75 0 0 0 0.00,0.00Z" fill="#1b2a9a"/><circle cx="0.00" cy="0.00" r="7.50" fill="none" stroke="#3a2050" stroke-width="0.6"/></g><g transform="translate(315.08,375.41) scale(0.983,0.99)"><circle r="7.2" fill="#fff" stroke="#222" stroke-width="0.5"/><path d="M-6.57,0.58 A6.60,6.60 0 0 1 3.79,-5.41" fill="none" stroke="#ee1c1c" stroke-width="1.3"/><path d="M3.79,-5.41 A6.60,6.60 0 0 1 3.79,5.41" fill="none" stroke="#f5e21a" stroke-width="1.3"/><path d="M3.79,5.41 A6.60,6.60 0 0 1 -6.57,0.58" fill="none" stroke="#1a2090" stroke-width="1.3"/><path transform="translate(0.00,0.30) scale(0.34)" d="M0,-11 C1.3,-11 2,-9.5 2,-8 L2,-3 L10,3.5 L10,6 L2,2.5 L1.6,7.5 L4.8,10.2 L4.8,11.8 L0,10.8 L-4.8,11.8 L-4.8,10.2 L-1.6,7.5 L-2,2.5 L-10,6 L-10,3.5 L-2,-3 L-2,-8 C-2,-9.5 -1.3,-11 0,-11Z" fill="#1a1a1a"/></g><g transform="translate(437.05,375.41) scale(0.983,0.99)"><circle r="5.8" fill="#fff" stroke="#231f1c" stroke-width="1.9"/></g><g transform="translate(476.75,375.41) scale(0.983,0.99)"><circle r="5.8" fill="#fff" stroke="#231f1c" stroke-width="1.9"/></g><g transform="translate(517.34,375.41) scale(0.983,0.99)"><circle r="5.8" fill="#fff" stroke="#231f1c" stroke-width="1.9"/></g><g transform="translate(558.13,375.41) scale(0.983,0.99)"><circle r="5.8" fill="#fff" stroke="#231f1c" stroke-width="1.9"/></g><g transform="translate(608.55,361.76) scale(0.983,0.99)"><circle r="16.1" fill="#1c3a7a"/><path transform="translate(0.00,-0.50) scale(1.0)" d="M0,-11 C1.3,-11 2,-9.5 2,-8 L2,-3 L10,3.5 L10,6 L2,2.5 L1.6,7.5 L4.8,10.2 L4.8,11.8 L0,10.8 L-4.8,11.8 L-4.8,10.2 L-1.6,7.5 L-2,2.5 L-10,6 L-10,3.5 L-2,-3 L-2,-8 C-2,-9.5 -1.3,-11 0,-11Z" fill="#ffffff"/></g><g transform="translate(673.71,361.76) scale(0.983,0.99)"><circle r="16.1" fill="#1c3a7a"/><path transform="translate(0.00,-0.50) scale(1.0)" d="M0,-11 C1.3,-11 2,-9.5 2,-8 L2,-3 L10,3.5 L10,6 L2,2.5 L1.6,7.5 L4.8,10.2 L4.8,11.8 L0,10.8 L-4.8,11.8 L-4.8,10.2 L-1.6,7.5 L-2,2.5 L-10,6 L-10,3.5 L-2,-3 L-2,-8 C-2,-9.5 -1.3,-11 0,-11Z" fill="#ffffff"/></g><text x="91.79" y="341.34" font-size="6.6" font-weight="bold" fill="#1a1a1a" textLength="21.43" lengthAdjust="spacingAndGlyphs" stroke="#1a1a1a" stroke-width="0.08">서울역</text><text x="137.30" y="365.06" font-size="5.6" font-weight="bold" fill="#1a1a1a" textLength="9.04" lengthAdjust="spacingAndGlyphs" stroke="#1a1a1a" stroke-width="0.08">공덕</text><text x="176.12" y="364.84" font-size="5.6" font-weight="bold" fill="#1a1a1a" textLength="22.60" lengthAdjust="spacingAndGlyphs" stroke="#1a1a1a" stroke-width="0.08">홍대입구</text><text x="205.99" y="364.84" font-size="5.6" font-weight="bold" fill="#1a1a1a" textLength="44.72" lengthAdjust="spacingAndGlyphs" stroke="#1a1a1a" stroke-width="0.08">디지털미디어시티</text><text x="257.59" y="364.84" font-size="5.6" font-weight="bold" fill="#1a1a1a" textLength="23.10" lengthAdjust="spacingAndGlyphs" stroke="#1a1a1a" stroke-width="0.08">마곡나루</text><text x="303.68" y="364.62" font-size="5.6" font-weight="bold" fill="#1a1a1a" textLength="21.92" lengthAdjust="spacingAndGlyphs" stroke="#1a1a1a" stroke-width="0.08">김포공항</text><text x="349.09" y="364.84" font-size="5.6" font-weight="bold" fill="#1a1a1a" textLength="11.20" lengthAdjust="spacingAndGlyphs" stroke="#1a1a1a" stroke-width="0.08">계양</text><text x="389.97" y="364.84" font-size="5.6" font-weight="bold" fill="#1a1a1a" textLength="10.42" lengthAdjust="spacingAndGlyphs" stroke="#1a1a1a" stroke-width="0.08">검암</text><text x="420.24" y="364.62" font-size="5.6" font-weight="bold" fill="#1a1a1a" textLength="32.92" lengthAdjust="spacingAndGlyphs" stroke="#1a1a1a" stroke-width="0.08">청라국제도시</text><text x="470.96" y="364.84" font-size="5.6" font-weight="bold" fill="#1a1a1a" textLength="11.40" lengthAdjust="spacingAndGlyphs" stroke="#1a1a1a" stroke-width="0.08">영종</text><text x="512.23" y="365.06" font-size="5.6" font-weight="bold" fill="#1a1a1a" textLength="10.32" lengthAdjust="spacingAndGlyphs" stroke="#1a1a1a" stroke-width="0.08">운서</text><text x="541.32" y="364.84" font-size="5.6" font-weight="bold" fill="#1a1a1a" textLength="33.61" lengthAdjust="spacingAndGlyphs" stroke="#1a1a1a" stroke-width="0.08">공항화물청사</text><text x="581.23" y="341.45" font-size="6.6" font-weight="bold" fill="#1a1a1a" textLength="54.64" lengthAdjust="spacingAndGlyphs" stroke="#1a1a1a" stroke-width="0.08">인천공항1터미널</text><text x="646.09" y="341.45" font-size="6.6" font-weight="bold" fill="#1a1a1a" textLength="55.04" lengthAdjust="spacingAndGlyphs" stroke="#1a1a1a" stroke-width="0.08">인천공항2터미널</text><text x="369.83" y="335.58" font-size="8" font-weight="bold" fill="#e07b1c" textLength="29.09" lengthAdjust="spacingAndGlyphs" stroke="#e07b1c" stroke-width="0.3">직통열차</text><text x="370.51" y="408.87" font-size="8.5" font-weight="bold" fill="#1d65aa" textLength="28.40" lengthAdjust="spacingAndGlyphs" stroke="#1d65aa" stroke-width="0.35">일반열차</text><line x1="102.60" y1="417.87" x2="102.60" y2="481.62" stroke="#9c9c9c" stroke-width="1" stroke-dasharray="2,1.6"/><line x1="140.54" y1="417.87" x2="140.54" y2="481.62" stroke="#9c9c9c" stroke-width="1" stroke-dasharray="2,1.6"/><line x1="187.03" y1="417.87" x2="187.03" y2="481.62" stroke="#9c9c9c" stroke-width="1" stroke-dasharray="2,1.6"/><line x1="227.42" y1="417.87" x2="227.42" y2="481.62" stroke="#9c9c9c" stroke-width="1" stroke-dasharray="2,1.6"/><line x1="268.70" y1="417.87" x2="268.70" y2="481.62" stroke="#9c9c9c" stroke-width="1" stroke-dasharray="2,1.6"/><line x1="314.30" y1="417.87" x2="314.30" y2="481.62" stroke="#9c9c9c" stroke-width="1" stroke-dasharray="2,1.6"/><line x1="353.51" y1="417.87" x2="353.51" y2="481.62" stroke="#9c9c9c" stroke-width="1" stroke-dasharray="2,1.6"/><line x1="395.48" y1="417.87" x2="395.48" y2="481.62" stroke="#9c9c9c" stroke-width="1" stroke-dasharray="2,1.6"/><line x1="436.75" y1="417.87" x2="436.75" y2="481.62" stroke="#9c9c9c" stroke-width="1" stroke-dasharray="2,1.6"/><line x1="476.56" y1="417.87" x2="476.56" y2="481.62" stroke="#9c9c9c" stroke-width="1" stroke-dasharray="2,1.6"/><line x1="517.34" y1="417.87" x2="517.34" y2="481.62" stroke="#9c9c9c" stroke-width="1" stroke-dasharray="2,1.6"/><line x1="557.64" y1="417.87" x2="557.64" y2="481.62" stroke="#9c9c9c" stroke-width="1" stroke-dasharray="2,1.6"/><line x1="608.25" y1="417.87" x2="608.25" y2="481.62" stroke="#9c9c9c" stroke-width="1" stroke-dasharray="2,1.6"/><line x1="672.14" y1="417.87" x2="672.14" y2="481.62" stroke="#9c9c9c" stroke-width="1" stroke-dasharray="2,1.6"/><line x1="58.67" y1="450.44" x2="699.65" y2="450.44" stroke="#b0b0b0" stroke-width="1.2"/><text x="69.68" y="439.69" font-size="12.5" font-weight="bold" fill="#111" textLength="20.05" lengthAdjust="spacingAndGlyphs" stroke="#111" stroke-width="0.2">승차</text><text x="69.68" y="473.01" font-size="12.5" font-weight="bold" fill="#111" textLength="20.05" lengthAdjust="spacingAndGlyphs" stroke="#111" stroke-width="0.2">하차</text><ellipse cx="102.60" cy="434.11" rx="5.31" ry="5.35" fill="#3535ef" stroke="#2020b0" stroke-width="0.7"/><ellipse cx="102.60" cy="467.00" rx="5.31" ry="5.35" fill="#3535ef" stroke="#2020b0" stroke-width="0.7"/><ellipse cx="140.54" cy="434.11" rx="5.31" ry="5.35" fill="#3535ef" stroke="#2020b0" stroke-width="0.7"/><ellipse cx="140.54" cy="467.00" rx="5.31" ry="5.35" fill="#3535ef" stroke="#2020b0" stroke-width="0.7"/><ellipse cx="187.03" cy="434.11" rx="5.31" ry="5.35" fill="#3535ef" stroke="#2020b0" stroke-width="0.7"/><ellipse cx="187.03" cy="467.00" rx="5.31" ry="5.35" fill="#3535ef" stroke="#2020b0" stroke-width="0.7"/><ellipse cx="227.42" cy="434.11" rx="5.31" ry="5.35" fill="#3535ef" stroke="#2020b0" stroke-width="0.7"/><ellipse cx="227.42" cy="467.00" rx="5.31" ry="5.35" fill="#3535ef" stroke="#2020b0" stroke-width="0.7"/><ellipse cx="268.70" cy="434.11" rx="5.31" ry="5.35" fill="#3535ef" stroke="#2020b0" stroke-width="0.7"/><ellipse cx="268.70" cy="467.00" rx="5.31" ry="5.35" fill="#3535ef" stroke="#2020b0" stroke-width="0.7"/><ellipse cx="314.30" cy="434.11" rx="5.31" ry="5.35" fill="#3535ef" stroke="#2020b0" stroke-width="0.7"/><ellipse cx="314.30" cy="467.00" rx="5.31" ry="5.35" fill="#3535ef" stroke="#2020b0" stroke-width="0.7"/><path d="M348.61,429.21 L358.41,439.00 M358.41,429.21 L348.61,439.00" stroke="#ff0000" stroke-width="3.9"/><path d="M348.61,462.10 L358.41,471.90 M358.41,462.10 L348.61,471.90" stroke="#ff0000" stroke-width="3.9"/><path d="M390.58,429.21 L400.38,439.00 M400.38,429.21 L390.58,439.00" stroke="#ff0000" stroke-width="3.9"/><path d="M390.58,462.10 L400.38,471.90 M400.38,462.10 L390.58,471.90" stroke="#ff0000" stroke-width="3.9"/><path d="M431.85,429.21 L441.65,439.00 M441.65,429.21 L431.85,439.00" stroke="#ff0000" stroke-width="3.9"/><path d="M431.85,462.10 L441.65,471.90 M441.65,462.10 L431.85,471.90" stroke="#ff0000" stroke-width="3.9"/><path d="M471.66,429.21 L481.46,439.00 M481.46,429.21 L471.66,439.00" stroke="#ff0000" stroke-width="3.9"/><path d="M471.66,462.10 L481.46,471.90 M481.46,462.10 L471.66,471.90" stroke="#ff0000" stroke-width="3.9"/><path d="M512.44,429.21 L522.24,439.00 M522.24,429.21 L512.44,439.00" stroke="#ff0000" stroke-width="3.9"/><path d="M512.44,462.10 L522.24,471.90 M522.24,462.10 L512.44,471.90" stroke="#ff0000" stroke-width="3.9"/><path d="M552.74,429.21 L562.54,439.00 M562.54,429.21 L552.74,439.00" stroke="#ff0000" stroke-width="3.9"/><path d="M552.74,462.10 L562.54,471.90 M562.54,462.10 L552.74,471.90" stroke="#ff0000" stroke-width="3.9"/><path d="M603.35,429.21 L613.15,439.00 M613.15,429.21 L603.35,439.00" stroke="#ff0000" stroke-width="3.9"/><ellipse cx="608.25" cy="467.00" rx="5.31" ry="5.35" fill="#3535ef" stroke="#2020b0" stroke-width="0.7"/><path d="M667.24,429.21 L677.04,439.00 M677.04,429.21 L667.24,439.00" stroke="#ff0000" stroke-width="3.9"/><ellipse cx="672.14" cy="467.00" rx="5.31" ry="5.35" fill="#3535ef" stroke="#2020b0" stroke-width="0.7"/><rect x="575.5" y="316" width="130" height="176.5" rx="24" ry="24" fill="none" stroke="#1f1fee" stroke-width="2.6" stroke-dasharray="5,3"/></svg></body></html>
